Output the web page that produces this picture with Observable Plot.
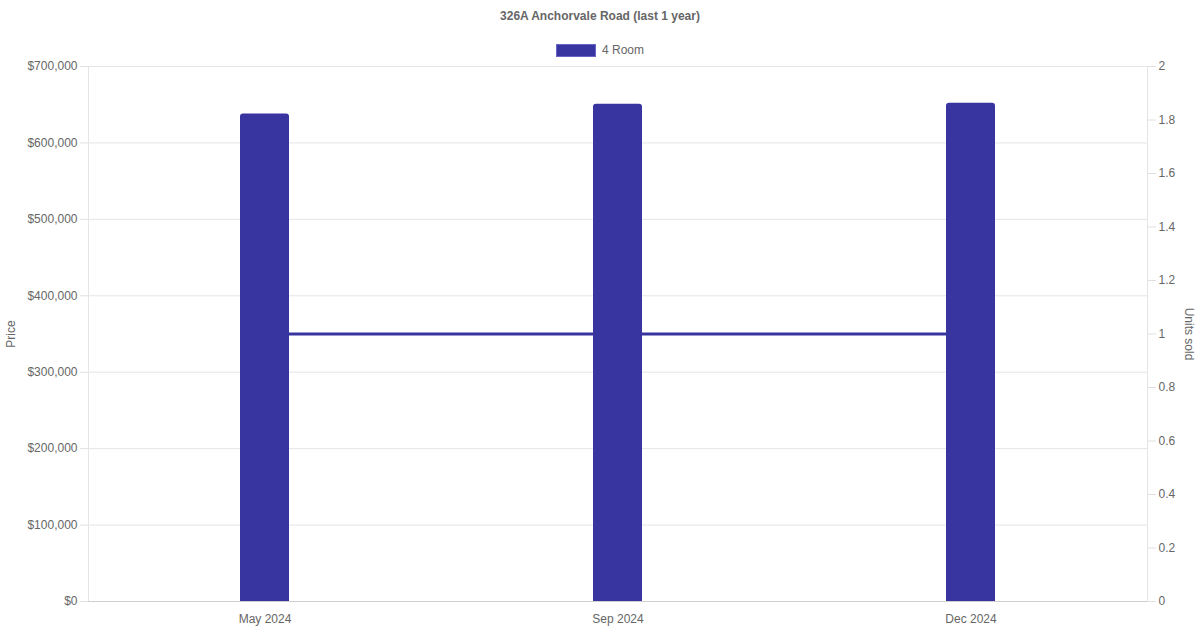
<!DOCTYPE html>
<html lang="en">
<head>
<meta charset="UTF-8">
<title>326A Anchorvale Road (last 1 year)</title>
<script src="https://cdn.jsdelivr.net/npm/d3@7"></script>
<script src="https://cdn.jsdelivr.net/npm/@observablehq/plot@0.6"></script>
<style>
  body { margin: 0; background: #fff; font-family: "Liberation Sans", Arial, sans-serif; color: #666; }
  #wrap { width: 1200px; height: 630px; position: relative; overflow: hidden; }
  #header { height: 60px; position: relative; }
  #title { position: absolute; top: 9px; left: 0; width: 1200px; text-align: center; font-size: 12px; font-weight: bold; color: #666; }
  #legend { position: absolute; top: 43px; left: 556px; font-size: 12px; color: #666; display: flex; align-items: center; }
  #legend .box { width: 38px; height: 11px; background: #3834a0; border: 1px solid #6a66c8; margin-right: 6px; }
  svg { display: block; }
</style>
</head>
<body>
<div id="wrap">
  <div id="header">
    <div id="title">326A Anchorvale Road (last 1 year)</div>
    <div id="legend"><span class="box"></span><span>4 Room</span></div>
  </div>
  <div id="chart"></div>
</div>
<script>
  const months = ["May 2024", "Sep 2024", "Dec 2024"];
  const prices = [638000, 650500, 652000];
  const units = [1, 1, 1];
  const priceTicks = [0, 100000, 200000, 300000, 400000, 500000, 600000, 700000];
  const unitTicks = [0, 0.2, 0.4, 0.6, 0.8, 1, 1.2, 1.4, 1.6, 1.8, 2];

  const priceMax = 700000;
  const unitMax = 2;
  const k = priceMax / unitMax; // maps units onto the price scale

  const rows = months.map((m, i) => ({ month: m, price: prices[i], units: units[i] }));
  const fmt = d3.format(",");

  const chart = Plot.plot({
    width: 1200,
    height: 570,
    marginTop: 6,
    marginBottom: 29,
    marginLeft: 88,
    marginRight: 53,
    style: { fontFamily: "'Liberation Sans', Arial, sans-serif", fontSize: "12px", color: "#666", background: "#fff" },
    x: { type: "band", domain: months, padding: 0 },
    y: { domain: [0, priceMax] },
    marks: [
      Plot.gridY(priceTicks, { stroke: "#e5e5e5", strokeOpacity: 1 }),
      Plot.frame({ stroke: "#e5e5e5" }),
      Plot.axisY(priceTicks, {
        anchor: "left", tickSize: 8, tickPadding: 3, stroke: "#e0e0e0", fill: "#666",
        tickFormat: d => "$" + fmt(d), label: null
      }),
      Plot.axisY(unitTicks.map(u => u * k), {
        anchor: "right", tickSize: 8, tickPadding: 3, stroke: "#e0e0e0", fill: "#666",
        tickFormat: d => String(+(d / k).toFixed(1)), label: null
      }),
      Plot.axisX({ tickSize: 0, tickPadding: 13, fill: "#666", label: null }),
      Plot.text(["Price"], { frameAnchor: "left", textAnchor: "middle", dx: -77, rotate: -90, fill: "#666", fontSize: 12 }),
      Plot.text(["Units sold"], { frameAnchor: "right", textAnchor: "middle", dx: 41, rotate: 90, fill: "#666", fontSize: 12 }),
      Plot.line(rows, { x: "month", y: d => d.units * k, stroke: "#3834a0", strokeWidth: 3 }),
      Plot.barY(rows, { x: "month", y: "price", fill: "#3834a0", insetLeft: 152, insetRight: 152, ry1: 3 }),
      Plot.ruleY([0], { stroke: "#cfcfcf" })
    ]
  });

  document.getElementById("chart").appendChild(chart);
</script>
</body>
</html>
